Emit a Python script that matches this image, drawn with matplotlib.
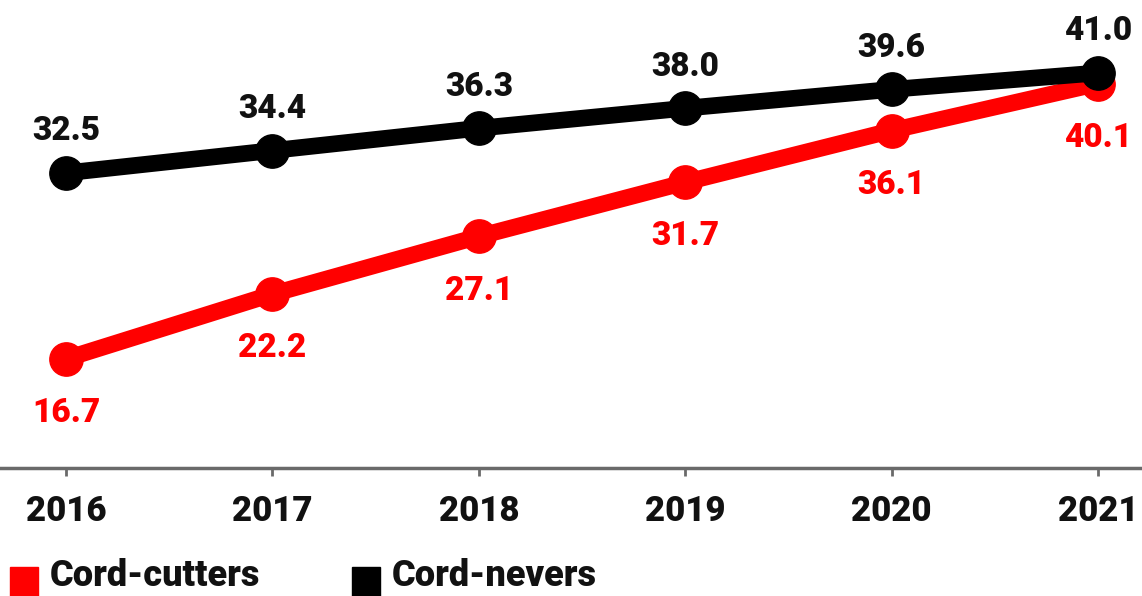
"""Cord-cutters vs cord-nevers line chart, 2016-2021."""

import matplotlib.pyplot as plt
from matplotlib.patches import Rectangle

plt.rcParams["font.family"] = ["Roboto", "DejaVu Sans"]
plt.rcParams["font.weight"] = "heavy"

YEARS = [2016, 2017, 2018, 2019, 2020, 2021]
CORD_CUTTERS = [16.7, 22.2, 27.1, 31.7, 36.1, 40.1]
CORD_NEVERS = [32.5, 34.4, 36.3, 38.0, 39.6, 41.0]
LEGEND = ["Cord-cutters", "Cord-nevers"]

RED = "#ff0000"
BLACK = "#000000"
WEIGHT = "heavy"


def main():
    fig = plt.figure(figsize=(11.42, 5.96), dpi=100)
    ax = fig.add_axes([0, 0, 1, 1])
    ax.set_xlim(2015.68, 2021.213)
    ax.set_ylim(-3.47, 47.2)

    # Lines (red underneath black)
    ax.plot(YEARS, CORD_CUTTERS, color=RED, lw=12, marker="o", ms=24,
            solid_capstyle="round", zorder=2)
    ax.plot(YEARS, CORD_NEVERS, color=BLACK, lw=12, marker="o", ms=24,
            solid_capstyle="round", zorder=3)

    # Value labels
    for x, v in zip(YEARS, CORD_NEVERS):
        ax.annotate(f"{v:.1f}", (x, v), xytext=(0, 30), textcoords="offset points",
                    ha="center", va="center", fontsize=24, color="#111111",
                    fontweight=WEIGHT)
    for x, v in zip(YEARS, CORD_CUTTERS):
        ax.annotate(f"{v:.1f}", (x, v), xytext=(0, -39), textcoords="offset points",
                    ha="center", va="center", fontsize=24, color=RED,
                    fontweight=WEIGHT)

    # Axis styling
    for side in ["top", "right", "left"]:
        ax.spines[side].set_visible(False)
    ax.spines["bottom"].set_position(("data", 7.4))
    ax.spines["bottom"].set_color("#6a6a6a")
    ax.spines["bottom"].set_linewidth(2.5)
    ax.set_yticks([])
    ax.set_xticks(YEARS)
    ax.tick_params(axis="x", direction="out", length=6, width=2,
                   color="#6a6a6a", labelsize=25, pad=13, labelcolor="#111111")
    for lbl in ax.get_xticklabels():
        lbl.set_fontweight(WEIGHT)

    # Legend drawn manually at the bottom
    W, H = 1142, 596
    entries = [(10, RED, LEGEND[0]), (352, BLACK, LEGEND[1])]
    for x0, col, txt in entries:
        fig.patches.append(Rectangle((x0 / W, 0), 28 / W, 29 / H,
                                     transform=fig.transFigure, color=col))
        fig.text((x0 + 40) / W, 2 / H, txt, fontsize=26, fontweight=WEIGHT,
                 ha="left", va="bottom", color="#111111")

    fig.savefig("out.png", dpi=100, facecolor="white")


if __name__ == "__main__":
    main()
